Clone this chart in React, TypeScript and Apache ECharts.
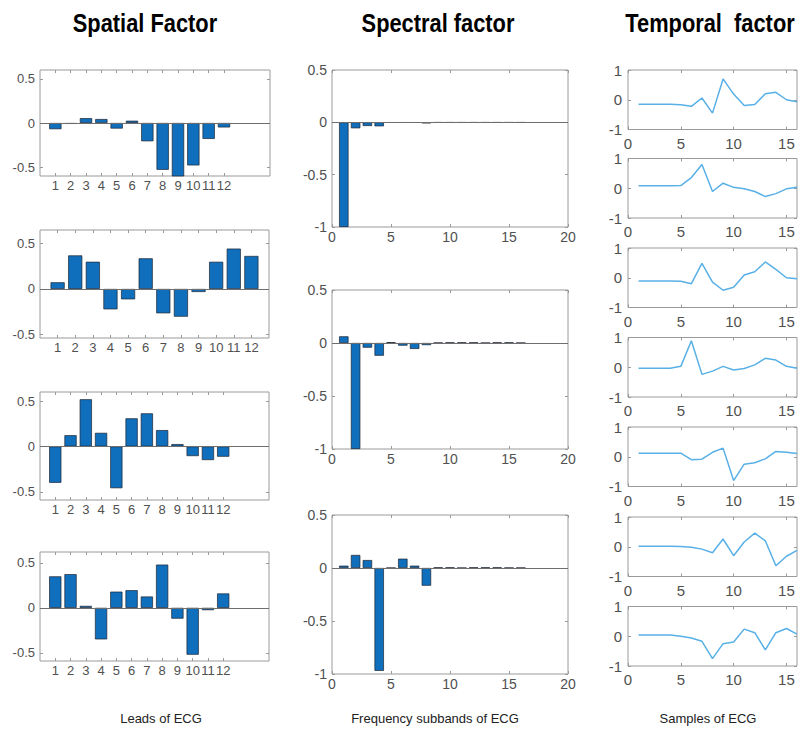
import React, { useEffect, useRef } from "react";
import * as echarts from "echarts";

// ---- data ----
const leads = [1, 2, 3, 4, 5, 6, 7, 8, 9, 10, 11, 12];
const spatial1 = [-0.07, -0.01, 0.055, 0.045, -0.063, 0.026, -0.207, -0.53, -0.62, -0.48, -0.18, -0.05];
const spatial2 = [0.074, 0.37, 0.3, -0.224, -0.114, 0.338, -0.268, -0.305, -0.033, 0.3, 0.445, 0.364];
const spatial3 = [-0.4, 0.124, 0.52, 0.15, -0.46, 0.31, 0.365, 0.18, 0.026, -0.106, -0.15, -0.113];
const spatial4 = [0.35, 0.374, 0.022, -0.35, 0.18, 0.196, 0.126, 0.48, -0.12, -0.52, -0.026, 0.16];

const subbands = [1, 2, 3, 4, 5, 6, 7, 8, 9, 10, 11, 12, 13, 14, 15, 16];
const spectral1 = [-1.0, -0.057, -0.035, -0.038, -0.003, -0.003, -0.003, -0.01, -0.002, -0.002, -0.002, -0.002, -0.002, -0.002, -0.002, -0.002];
const spectral2 = [0.063, -1.0, -0.044, -0.12, 0.008, -0.025, -0.056, -0.02, 0.002, 0.005, 0.005, 0.005, 0.001, 0.005, 0.005, 0.001];
const spectral3 = [0.022, 0.123, 0.075, -0.97, 0.001, 0.088, 0.022, -0.167, 0.005, 0.005, 0.001, 0.005, 0.005, 0.005, 0.002, 0.002];

const samples = [1, 2, 3, 4, 5, 6, 7, 8, 9, 10, 11, 12, 13, 14, 15, 16];
const temporal1 = [-0.15, -0.15, -0.15, -0.15, -0.17, -0.22, 0.06, -0.45, 0.7, 0.19, -0.19, -0.16, 0.2, 0.25, 0.0, -0.07];
const temporal2 = [0.08, 0.08, 0.08, 0.08, 0.09, 0.36, 0.8, -0.11, 0.17, 0.03, -0.02, -0.11, -0.28, -0.18, -0.02, 0.03];
const temporal3 = [-0.11, -0.11, -0.11, -0.11, -0.12, -0.2, 0.48, -0.15, -0.42, -0.32, 0.09, 0.2, 0.53, 0.28, 0.0, -0.03];
const temporal4 = [-0.03, -0.03, -0.03, -0.03, 0.03, 0.89, -0.24, -0.13, 0.03, -0.09, -0.04, 0.08, 0.3, 0.24, 0.03, -0.03];
const temporal5 = [0.12, 0.12, 0.12, 0.12, 0.12, -0.1, -0.08, 0.15, 0.29, -0.8, -0.25, -0.2, -0.07, 0.18, 0.15, 0.11];
const temporal6 = [0.02, 0.02, 0.02, 0.02, 0.01, -0.02, -0.08, -0.2, 0.26, -0.3, 0.16, 0.46, 0.2, -0.64, -0.32, -0.12];
const temporal7 = [0.04, 0.04, 0.04, 0.04, 0.0, -0.06, -0.17, -0.75, -0.25, -0.19, 0.24, 0.12, -0.46, 0.12, 0.26, 0.07];

const spatialTicksY = [-0.5, 0, 0.5];
const spectralTicksX = [0, 5, 10, 15, 20];
const spectralTicksY = [-1, -0.5, 0, 0.5];
const temporalTicksX = [0, 5, 10, 15];
const temporalTicksY = [-1, 0, 1];

const columnTitles = ["Spatial Factor", "Spectral factor", "Temporal  factor"];
const columnLabels = ["Leads of ECG", "Frequency subbands of ECG", "Samples of ECG"];

// ---- layout & style ----
const W = 803;
const H = 735;
const BAR = "#0f6fbd";
const BAR_EDGE = "#1c2430";
const LINE = "#58b0e6";
const AXIS = "#9a9a9a";
const TICK_TEXT = "#505050";
const FONT = "'Liberation Sans', Arial, Helvetica, sans-serif";

type Panel = {
  left: number;
  top: number;
  width: number;
  height: number;
  xMin: number;
  xMax: number;
  yMin: number;
  yMax: number;
};

const spatialPanels: Panel[] = [
  { left: 40, top: 70, width: 230, height: 106, xMin: 0, xMax: 15, yMin: -0.6, yMax: 0.6 },
  { left: 40, top: 230, width: 229, height: 108, xMin: 0, xMax: 13, yMin: -0.54, yMax: 0.65 },
  { left: 40, top: 392, width: 229, height: 108, xMin: 0, xMax: 15, yMin: -0.59, yMax: 0.6 },
  { left: 40, top: 552, width: 229, height: 109, xMin: 0, xMax: 15, yMin: -0.59, yMax: 0.62 },
];
const spectralPanels: Panel[] = [
  { left: 332, top: 70, width: 236, height: 157, xMin: 0, xMax: 20, yMin: -1, yMax: 0.5 },
  { left: 332, top: 290, width: 236, height: 159, xMin: 0, xMax: 20, yMin: -1, yMax: 0.5 },
  { left: 332, top: 515, width: 236, height: 159, xMin: 0, xMax: 20, yMin: -1, yMax: 0.5 },
];
const temporalTops = [70, 158.5, 248, 337.5, 427, 517, 606.5];
const temporalPanels: Panel[] = temporalTops.map((t) => ({
  left: 628,
  top: t,
  width: 169,
  height: 59.5,
  xMin: 0,
  xMax: 16,
  yMin: -1,
  yMax: 1,
}));

type TickSpec = {
  xTicks: number[];
  yTicks: number[];
  fontSize: number;
  xMargin: number;
  yMargin: number;
};

function buildOption() {
  const grid: any[] = [];
  const xAxis: any[] = [];
  const yAxis: any[] = [];
  const series: any[] = [];

  const tickStyle = { color: AXIS, width: 1 };
  const noLine = { show: false, onZero: false };

  function addPanel(p: Panel, t: TickSpec) {
    const gi = grid.length;
    grid.push({
      left: p.left,
      top: p.top,
      width: p.width,
      height: p.height,
      show: true,
      borderColor: AXIS,
      borderWidth: 1,
      backgroundColor: "#ffffff",
    });
    const xi = xAxis.length;
    const yi = yAxis.length;
    const labelText = { color: TICK_TEXT, fontSize: t.fontSize, fontFamily: FONT };
    // bottom + top x axes, left + right y axes: inward ticks on all four sides of the box
    xAxis.push({
      gridIndex: gi,
      type: "value",
      position: "bottom",
      min: p.xMin,
      max: p.xMax,
      axisLine: noLine,
      splitLine: { show: false },
      axisTick: { show: true, inside: true, length: 3, customValues: t.xTicks, lineStyle: tickStyle },
      axisLabel: { show: true, customValues: t.xTicks, margin: t.xMargin, ...labelText },
    });
    xAxis.push({
      gridIndex: gi,
      type: "value",
      position: "top",
      min: p.xMin,
      max: p.xMax,
      axisLine: noLine,
      splitLine: { show: false },
      axisTick: { show: true, inside: true, length: 3, customValues: t.xTicks, lineStyle: tickStyle },
      axisLabel: { show: false },
    });
    yAxis.push({
      gridIndex: gi,
      type: "value",
      position: "left",
      min: p.yMin,
      max: p.yMax,
      axisLine: noLine,
      splitLine: { show: false },
      axisTick: { show: true, inside: true, length: 3, customValues: t.yTicks, lineStyle: tickStyle },
      axisLabel: { show: true, customValues: t.yTicks, margin: t.yMargin, ...labelText },
    });
    yAxis.push({
      gridIndex: gi,
      type: "value",
      position: "right",
      min: p.yMin,
      max: p.yMax,
      axisLine: noLine,
      splitLine: { show: false },
      axisTick: { show: true, inside: true, length: 3, customValues: t.yTicks, lineStyle: tickStyle },
      axisLabel: { show: false },
    });
    return { xi, yi, p };
  }

  function addBars(a: { xi: number; yi: number; p: Panel }, xs: number[], ys: number[]) {
    const pxPerUnit = a.p.width / (a.p.xMax - a.p.xMin);
    series.push({
      type: "bar",
      xAxisIndex: a.xi,
      yAxisIndex: a.yi,
      data: xs.map((x, i) => [x, ys[i]]),
      barWidth: pxPerUnit * 0.8,
      itemStyle: { color: BAR, borderColor: BAR_EDGE, borderWidth: 0.7 },
      silent: true,
      markLine: {
        silent: true,
        symbol: ["none", "none"],
        label: { show: false },
        lineStyle: { color: "#6e6e6e", type: "solid", width: 1 },
        data: [{ yAxis: 0 }],
      },
    });
  }

  function addLine(a: { xi: number; yi: number; p: Panel }, xs: number[], ys: number[]) {
    series.push({
      type: "line",
      xAxisIndex: a.xi,
      yAxisIndex: a.yi,
      data: xs.map((x, i) => [x, ys[i]]),
      showSymbol: false,
      symbol: "none",
      lineStyle: { color: LINE, width: 1.5 },
      silent: true,
    });
  }

  const spatialData = [spatial1, spatial2, spatial3, spatial4];
  spatialPanels.forEach((p, i) => {
    const a = addPanel(p, { xTicks: leads, yTicks: spatialTicksY, fontSize: 13, xMargin: 3, yMargin: 5 });
    addBars(a, leads, spatialData[i]);
  });

  const spectralData = [spectral1, spectral2, spectral3];
  spectralPanels.forEach((p, i) => {
    const a = addPanel(p, { xTicks: spectralTicksX, yTicks: spectralTicksY, fontSize: 14, xMargin: 3, yMargin: 5 });
    addBars(a, subbands, spectralData[i]);
  });

  const temporalData = [temporal1, temporal2, temporal3, temporal4, temporal5, temporal6, temporal7];
  temporalPanels.forEach((p, i) => {
    const a = addPanel(p, { xTicks: temporalTicksX, yTicks: temporalTicksY, fontSize: 15, xMargin: 6, yMargin: 6 });
    addLine(a, samples, temporalData[i]);
  });

  const titleX = [145, 438, 710];
  const labelX = [161, 435, 708];
  const graphic: any[] = [];
  columnTitles.forEach((t, i) => {
    graphic.push({
      type: "text",
      x: titleX[i],
      y: 23,
      scaleX: 0.84,
      silent: true,
      style: {
        text: t,
        textAlign: "center",
        textVerticalAlign: "middle",
        align: "center",
        verticalAlign: "middle",
        fill: "#000000",
        fontSize: 26,
        fontWeight: "bold",
        fontFamily: FONT,
      },
    });
  });
  columnLabels.forEach((t, i) => {
    graphic.push({
      type: "text",
      x: labelX[i],
      y: 718,
      silent: true,
      style: {
        text: t,
        textAlign: "center",
        textVerticalAlign: "middle",
        align: "center",
        verticalAlign: "middle",
        fill: "#222222",
        fontSize: 13,
        fontFamily: FONT,
      },
    });
  });

  return {
    animation: false,
    backgroundColor: "#ffffff",
    grid,
    xAxis,
    yAxis,
    series,
    graphic,
  };
}

export default function App() {
  const ref = useRef<HTMLDivElement>(null);
  useEffect(() => {
    if (!ref.current) return;
    const chart = echarts.init(ref.current, undefined, { renderer: "svg", width: W, height: H });
    chart.setOption(buildOption() as any);
    return () => chart.dispose();
  }, []);
  return (
    <div
      ref={ref}
      style={{ position: "absolute", left: 0, top: 0, width: W, height: H, background: "#ffffff" }}
    />
  );
}
